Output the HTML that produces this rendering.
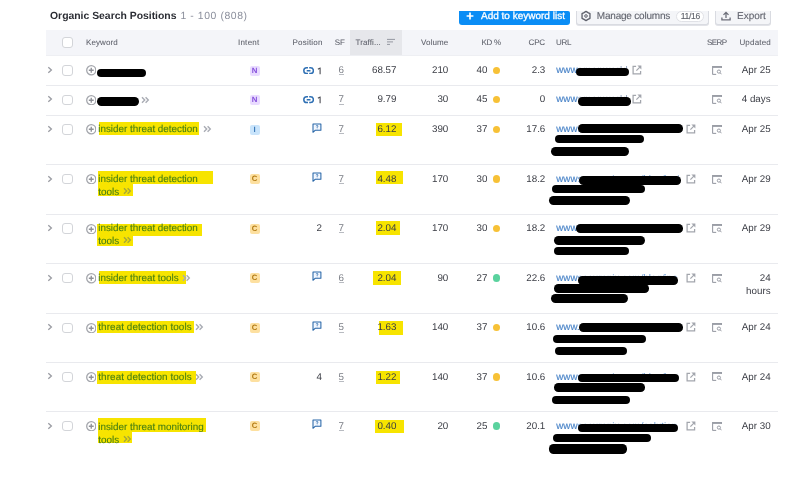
<!DOCTYPE html>
<html><head><meta charset="utf-8"><style>
html,body{margin:0;padding:0;background:#fff;width:800px;height:480px;overflow:hidden;position:relative}
.t{position:absolute;white-space:nowrap;line-height:1;font-family:"Liberation Sans",sans-serif;text-rendering:geometricPrecision}
#w{position:absolute;left:0;top:0;width:800px;height:480px;will-change:transform;background:#fff}
.b{position:absolute}
</style></head><body><div id="w">
<div class="t" style="left:50px;top:12.40px;font-size:10.4px;color:#2a2c33;font-weight:700;">Organic Search Positions</div>
<div class="t" style="left:180.4px;top:12.40px;font-size:10.4px;color:#8b8f9c;font-weight:400;letter-spacing:0.6px;">1 - 100 (808)</div>
<div class="b" style="left:459px;top:11px;width:111.00px;height:14.00px;background:#0a8df5;border-radius:0 2px 3px 3px"></div>
<svg class="b" style="left:465px;top:11.2px" width="10" height="10" viewBox="0 0 10 10"><path d="M5 1.6V8.4M1.6 5H8.4" stroke="#fff" stroke-width="1.7"/></svg>
<div class="t" style="left:481px;top:12.04px;font-size:10px;color:#fff;font-weight:400;-webkit-text-stroke:0.3px currentColor;">Add to keyword list</div>
<div class="b" style="left:575.5px;top:11px;width:133.50px;height:13.50px;background:#f4f5f8;border:1px solid #d9dbe1;border-top:none;border-radius:0 0 3px 3px;box-sizing:border-box;box-shadow:0 1px 0 #e2e3e8"></div>
<svg class="b" style="left:580.2px;top:10.2px" width="12" height="12" viewBox="0 0 12 12"><path d="M6.00 1.40 L7.98 2.58 L9.98 3.70 L9.95 6.00 L9.98 8.30 L7.98 9.42 L6.00 10.60 L4.03 9.42 L2.02 8.30 L2.05 6.00 L2.02 3.70 L4.02 2.58Z" fill="none" stroke="#5f626c" stroke-width="1.35" stroke-linejoin="round"/><circle cx="6" cy="6" r="1.3" fill="none" stroke="#5f626c" stroke-width="1"/></svg>
<div class="t" style="left:596.8px;top:12.04px;font-size:10px;color:#60636d;font-weight:400;letter-spacing:-0.2px;-webkit-text-stroke:0.1px currentColor;">Manage columns</div>
<div class="b" style="left:676.2px;top:11.4px;width:27.40px;height:10.50px;background:#fff;border:1px solid #e0e1e6;border-radius:5.5px;box-sizing:border-box"></div>
<div class="t" style="left:680.8px;top:12.32px;font-size:8.6px;color:#5f626b;font-weight:400;letter-spacing:-0.35px;-webkit-text-stroke:0.12px currentColor;">11/16</div>
<div class="b" style="left:715px;top:11px;width:55.50px;height:13.50px;background:#f4f5f8;border:1px solid #d9dbe1;border-top:none;border-radius:0 0 3px 3px;box-sizing:border-box;box-shadow:0 1px 0 #e2e3e8"></div>
<svg class="b" style="left:720px;top:10.2px" width="12" height="12" viewBox="0 0 12 12"><path d="M6 2.6V8M3.5 4.9L6 2.4 8.5 4.9M1.9 7.4V9.9H10.1V7.4" fill="none" stroke="#6c6e79" stroke-width="1.3"/></svg>
<div class="t" style="left:737px;top:12.04px;font-size:10px;color:#60636d;font-weight:400;-webkit-text-stroke:0.1px currentColor;">Export</div>
<div class="b" style="left:46px;top:30.2px;width:732.00px;height:26.10px;background:#f4f5f9;border-bottom:1px solid #eeeff3;box-sizing:border-box"></div>
<div class="b" style="left:350.3px;top:30.2px;width:51.40px;height:25.30px;background:#e6e7eb"></div>
<div class="b" style="left:62.2px;top:37.4px;width:10.60px;height:10.40px;background:#fff;border:1px solid #d3d5d9;border-radius:3px;box-sizing:border-box"></div>
<div class="t" style="left:86px;top:38.63px;font-size:8px;color:#5c5f69;font-weight:400;letter-spacing:0.08px;-webkit-text-stroke:0.06px currentColor;">Keyword</div>
<div class="t" style="left:237.9px;top:38.63px;font-size:8px;color:#5c5f69;font-weight:400;letter-spacing:0.28px;-webkit-text-stroke:0.06px currentColor;">Intent</div>
<div class="t" style="left:292.6px;top:38.63px;font-size:8px;color:#5c5f69;font-weight:400;letter-spacing:0.19px;-webkit-text-stroke:0.06px currentColor;">Position</div>
<div class="t" style="left:334.7px;top:38.63px;font-size:8px;color:#5c5f69;font-weight:400;letter-spacing:0.08px;-webkit-text-stroke:0.06px currentColor;">SF</div>
<div class="t" style="left:355.6px;top:38.63px;font-size:8px;color:#5c5f69;font-weight:400;letter-spacing:0.09px;-webkit-text-stroke:0.06px currentColor;">Traffi...</div>
<svg class="b" style="left:387px;top:38px" width="9" height="8" viewBox="0 0 9 8"><path d="M0 1.4H8M0 3.9H6M0 6.4H3" stroke="#8b8e99" stroke-width="0.9"/></svg>
<div class="t" style="right:351.60px;top:38.63px;font-size:8px;color:#5c5f69;font-weight:400;text-align:right;letter-spacing:0.1px;-webkit-text-stroke:0.06px currentColor;">Volume</div>
<div class="t" style="left:481.6px;top:38.63px;font-size:8px;color:#5c5f69;font-weight:400;letter-spacing:-0.34px;-webkit-text-stroke:0.06px currentColor;">KD %</div>
<div class="t" style="right:255.06px;top:38.63px;font-size:8px;color:#5c5f69;font-weight:400;text-align:right;letter-spacing:-0.16px;-webkit-text-stroke:0.06px currentColor;">CPC</div>
<div class="t" style="left:556px;top:38.63px;font-size:8px;color:#5c5f69;font-weight:400;letter-spacing:-0.31px;-webkit-text-stroke:0.06px currentColor;">URL</div>
<div class="t" style="left:706.9px;top:38.63px;font-size:8px;color:#5c5f69;font-weight:400;letter-spacing:-0.5px;-webkit-text-stroke:0.06px currentColor;">SERP</div>
<div class="t" style="left:739.4px;top:38.63px;font-size:8px;color:#5c5f69;font-weight:400;letter-spacing:0.19px;-webkit-text-stroke:0.06px currentColor;">Updated</div>
<div class="b" style="left:45.7px;top:84.75px;width:732.30px;height:1.00px;background:#e9eaee"></div>
<div class="b" style="left:45.7px;top:114.5px;width:732.30px;height:1.00px;background:#e9eaee"></div>
<div class="b" style="left:45.7px;top:164.05px;width:732.30px;height:1.00px;background:#e9eaee"></div>
<div class="b" style="left:45.7px;top:213.6px;width:732.30px;height:1.00px;background:#e9eaee"></div>
<div class="b" style="left:45.7px;top:263.1px;width:732.30px;height:1.00px;background:#e9eaee"></div>
<div class="b" style="left:45.7px;top:312.75px;width:732.30px;height:1.00px;background:#e9eaee"></div>
<div class="b" style="left:45.7px;top:361.95px;width:732.30px;height:1.00px;background:#e9eaee"></div>
<div class="b" style="left:45.7px;top:411.0px;width:732.30px;height:1.00px;background:#e9eaee"></div>
<svg class="b" style="left:47px;top:66.00px" width="6" height="8" viewBox="0 0 6 8"><path d="M1.3 1.2L4.4 4 1.3 6.8" fill="none" stroke="#9a9ca3" stroke-width="1.3"/></svg>
<div class="b" style="left:62.1px;top:65.3px;width:10.60px;height:10.50px;background:#fff;border:1px solid #d3d5d9;border-radius:3px;box-sizing:border-box"></div>
<svg class="b" style="left:85.5px;top:65.40px" width="10.5" height="10.5" viewBox="0 0 10.5 10.5"><circle cx="5.25" cy="5.25" r="4.55" fill="none" stroke="#a4a6ac" stroke-width="1.3"/><path d="M5.25 2.8V7.7M2.8 5.25H7.7" stroke="#8f9198" stroke-width="1.35"/></svg>
<div class="b" style="left:96.9px;top:68.5px;width:48.90px;height:8.70px;background:#000;border-radius:4.35px"></div>
<div class="b" style="left:249.6px;top:65.69999999999999px;width:10.20px;height:10.00px;background:#e9dbff;border-radius:2px"></div>
<div class="t" style="left:249.6px;width:10.2px;text-align:center;top:66.70px;font-size:7.8px;font-weight:700;color:#8650dc">N</div>
<svg class="b" style="left:302.8px;top:67.00px" width="11.2" height="7.4" viewBox="0 0 11.2 7.4"><path d="M5 0.8H3.7A2.9 2.9 0 0 0 3.7 6.6H5M6.2 0.8H7.5A2.9 2.9 0 0 1 7.5 6.6H6.2M3.7 3.7H7.5" fill="none" stroke="#2f70b4" stroke-width="1.5"/></svg>
<svg class="b" style="left:316px;top:67.00px" width="6" height="8" viewBox="0 0 6 8"><path d="M4.1 0.4V7.2M4.1 0.9L1.9 2.3" fill="none" stroke="#4a4c53" stroke-width="1.1"/></svg>
<div class="t" style="left:338.5px;top:66.20px;font-size:9.8px;color:#7a7d85;font-weight:400;letter-spacing:0px;">6</div>
<div class="b" style="left:338.9px;top:74.3px;width:5.50px;height:0.80px;background:#b8bbc1"></div>
<div class="t" style="right:403.50px;top:66.20px;font-size:9.8px;color:#3a3c44;font-weight:400;text-align:right;letter-spacing:0px;">68.57</div>
<div class="t" style="right:351.70px;top:66.20px;font-size:9.8px;color:#3a3c44;font-weight:400;text-align:right;letter-spacing:0px;">210</div>
<div class="t" style="right:312.50px;top:66.20px;font-size:9.8px;color:#3a3c44;font-weight:400;text-align:right;letter-spacing:0px;">40</div>
<div class="b" style="left:492.8px;top:66.6px;width:7.60px;height:7.60px;background:#f7c136;border-radius:50%"></div>
<div class="t" style="right:254.70px;top:66.20px;font-size:9.8px;color:#3a3c44;font-weight:400;text-align:right;letter-spacing:0px;">2.3</div>
<div class="t" style="left:556.3px;top:66.20px;font-size:9.8px;color:#4a84c8;font-weight:400;letter-spacing:0px;-webkit-text-stroke:0.15px currentColor;">www</div>
<div class="t" style="left:577.50px;top:66.20px;width:52.40px;overflow:hidden;font-size:9.8px;letter-spacing:0.3px;color:#8a9cb8">amanworld</div>
<div class="b" style="left:575.6px;top:67.5px;width:53.80px;height:8.75px;background:#000;border-radius:4.38px"></div>
<svg class="b" style="left:631.85px;top:65.20px" width="10" height="10" viewBox="0 0 10 10"><path d="M4.1 1.4H1.1V8.9H8.6V5.9" fill="none" stroke="#a3a6ad" stroke-width="1.25"/><path d="M5.4 0.6H9.4V4.6Z" fill="#a3a6ad"/><path d="M8.6 1.4L4.4 5.6" fill="none" stroke="#a3a6ad" stroke-width="1.25"/></svg>
<svg class="b" style="left:711.5px;top:66.00px" width="10.5" height="9" viewBox="0 0 10.5 9"><path d="M0.6 8.4V0.6H9.6V2" fill="none" stroke="#9a9da6" stroke-width="1.1"/><path d="M0.6 1.3H9.6" stroke="#9a9da6" stroke-width="1.2"/><path d="M0.6 8.4H4.2" stroke="#9a9da6" stroke-width="1.1"/><circle cx="6.9" cy="5.6" r="1.6" fill="none" stroke="#9a9da6" stroke-width="1"/><path d="M8.1 6.8L9.6 8.3" stroke="#9a9da6" stroke-width="1"/></svg>
<div class="t" style="right:29.40px;top:66.20px;font-size:9.8px;color:#3a3c44;font-weight:400;text-align:right;letter-spacing:0px;">Apr 25</div>
<svg class="b" style="left:47px;top:95.25px" width="6" height="8" viewBox="0 0 6 8"><path d="M1.3 1.2L4.4 4 1.3 6.8" fill="none" stroke="#9a9ca3" stroke-width="1.3"/></svg>
<div class="b" style="left:62.1px;top:94.55px;width:10.60px;height:10.50px;background:#fff;border:1px solid #d3d5d9;border-radius:3px;box-sizing:border-box"></div>
<svg class="b" style="left:85.5px;top:94.65px" width="10.5" height="10.5" viewBox="0 0 10.5 10.5"><circle cx="5.25" cy="5.25" r="4.55" fill="none" stroke="#a4a6ac" stroke-width="1.3"/><path d="M5.25 2.8V7.7M2.8 5.25H7.7" stroke="#8f9198" stroke-width="1.35"/></svg>
<div class="b" style="left:96.9px;top:97px;width:42.00px;height:8.80px;background:#000;border-radius:4.40px"></div>
<svg class="b" style="left:140.75px;top:95.85px" width="9" height="8" viewBox="0 0 9 8"><path d="M1 1.2L3.7 4 1 6.8M4.6 1.2L7.3 4 4.6 6.8" fill="none" stroke="#a9acb4" stroke-width="1.4"/></svg>
<div class="b" style="left:249.6px;top:94.94999999999999px;width:10.20px;height:10.00px;background:#e9dbff;border-radius:2px"></div>
<div class="t" style="left:249.6px;width:10.2px;text-align:center;top:95.95px;font-size:7.8px;font-weight:700;color:#8650dc">N</div>
<svg class="b" style="left:302.8px;top:96.25px" width="11.2" height="7.4" viewBox="0 0 11.2 7.4"><path d="M5 0.8H3.7A2.9 2.9 0 0 0 3.7 6.6H5M6.2 0.8H7.5A2.9 2.9 0 0 1 7.5 6.6H6.2M3.7 3.7H7.5" fill="none" stroke="#2f70b4" stroke-width="1.5"/></svg>
<svg class="b" style="left:316px;top:96.25px" width="6" height="8" viewBox="0 0 6 8"><path d="M4.1 0.4V7.2M4.1 0.9L1.9 2.3" fill="none" stroke="#4a4c53" stroke-width="1.1"/></svg>
<div class="t" style="left:338.5px;top:95.45px;font-size:9.8px;color:#7a7d85;font-weight:400;letter-spacing:0px;">7</div>
<div class="b" style="left:338.9px;top:103.55px;width:5.50px;height:0.80px;background:#b8bbc1"></div>
<div class="t" style="right:403.50px;top:95.45px;font-size:9.8px;color:#3a3c44;font-weight:400;text-align:right;letter-spacing:0px;">9.79</div>
<div class="t" style="right:351.70px;top:95.45px;font-size:9.8px;color:#3a3c44;font-weight:400;text-align:right;letter-spacing:0px;">30</div>
<div class="t" style="right:312.50px;top:95.45px;font-size:9.8px;color:#3a3c44;font-weight:400;text-align:right;letter-spacing:0px;">45</div>
<div class="b" style="left:492.8px;top:95.85px;width:7.60px;height:7.60px;background:#f7c136;border-radius:50%"></div>
<div class="t" style="right:254.70px;top:95.45px;font-size:9.8px;color:#3a3c44;font-weight:400;text-align:right;letter-spacing:0px;">0</div>
<div class="t" style="left:556.3px;top:95.45px;font-size:9.8px;color:#4a84c8;font-weight:400;letter-spacing:0px;-webkit-text-stroke:0.15px currentColor;">www</div>
<div class="t" style="left:577.50px;top:95.45px;width:53.60px;overflow:hidden;font-size:9.8px;letter-spacing:0.3px;color:#8a9cb8">amanworld</div>
<div class="b" style="left:578px;top:96.9px;width:52.60px;height:8.70px;background:#000;border-radius:4.35px"></div>
<svg class="b" style="left:631.85px;top:94.45px" width="10" height="10" viewBox="0 0 10 10"><path d="M4.1 1.4H1.1V8.9H8.6V5.9" fill="none" stroke="#a3a6ad" stroke-width="1.25"/><path d="M5.4 0.6H9.4V4.6Z" fill="#a3a6ad"/><path d="M8.6 1.4L4.4 5.6" fill="none" stroke="#a3a6ad" stroke-width="1.25"/></svg>
<svg class="b" style="left:711.5px;top:95.25px" width="10.5" height="9" viewBox="0 0 10.5 9"><path d="M0.6 8.4V0.6H9.6V2" fill="none" stroke="#9a9da6" stroke-width="1.1"/><path d="M0.6 1.3H9.6" stroke="#9a9da6" stroke-width="1.2"/><path d="M0.6 8.4H4.2" stroke="#9a9da6" stroke-width="1.1"/><circle cx="6.9" cy="5.6" r="1.6" fill="none" stroke="#9a9da6" stroke-width="1"/><path d="M8.1 6.8L9.6 8.3" stroke="#9a9da6" stroke-width="1"/></svg>
<div class="t" style="right:29.40px;top:95.45px;font-size:9.8px;color:#3a3c44;font-weight:400;text-align:right;letter-spacing:0px;">4 days</div>
<svg class="b" style="left:47px;top:125.00px" width="6" height="8" viewBox="0 0 6 8"><path d="M1.3 1.2L4.4 4 1.3 6.8" fill="none" stroke="#9a9ca3" stroke-width="1.3"/></svg>
<div class="b" style="left:62.1px;top:124.3px;width:10.60px;height:10.50px;background:#fff;border:1px solid #d3d5d9;border-radius:3px;box-sizing:border-box"></div>
<svg class="b" style="left:85.5px;top:124.40px" width="10.5" height="10.5" viewBox="0 0 10.5 10.5"><circle cx="5.25" cy="5.25" r="4.55" fill="none" stroke="#a4a6ac" stroke-width="1.3"/><path d="M5.25 2.8V7.7M2.8 5.25H7.7" stroke="#8f9198" stroke-width="1.35"/></svg>
<div class="b" style="left:99.1px;top:122.4px;width:99.80px;height:13.00px;background:#f7e400"></div>
<div class="t" style="left:98.3px;top:125.02px;font-size:9.9px;color:#4a8012;font-weight:400;letter-spacing:-0.02px;-webkit-text-stroke:0.12px currentColor;">insider threat detection</div>
<svg class="b" style="left:202.50px;top:124.70px" width="9" height="8" viewBox="0 0 9 8"><path d="M1 1.2L3.7 4 1 6.8M4.6 1.2L7.3 4 4.6 6.8" fill="none" stroke="#a9acb4" stroke-width="1.4"/></svg>
<div class="b" style="left:249.6px;top:124.69999999999999px;width:10.20px;height:10.00px;background:#c9e4fb;border-radius:2px"></div>
<div class="t" style="left:249.6px;width:10.2px;text-align:center;top:125.70px;font-size:7.8px;font-weight:700;color:#3a78b8">I</div>
<svg class="b" style="left:311.5px;top:122.80px" width="10" height="10.5" viewBox="0 0 10 10.5"><path d="M1 1H8.9V7.3H3.1L1 9.3Z" fill="#f3f8ff" stroke="#2866a8" stroke-width="1.05" stroke-linejoin="round"/><path d="M4.2 3.3A0.85 0.85 0 1 1 5.1 4.1V4.9" fill="none" stroke="#2866a8" stroke-width="0.75"/><circle cx="5.1" cy="5.9" r="0.4" fill="#2866a8"/></svg>
<div class="t" style="left:338.5px;top:125.20px;font-size:9.8px;color:#7a7d85;font-weight:400;letter-spacing:0px;">7</div>
<div class="b" style="left:338.9px;top:133.3px;width:5.50px;height:0.80px;background:#b8bbc1"></div>
<div class="b" style="left:375.5px;top:122.5px;width:26.50px;height:13.00px;background:#f7e400"></div>
<div class="t" style="right:403.50px;top:125.20px;font-size:9.8px;color:#3a3c44;font-weight:400;text-align:right;letter-spacing:0px;">6.12</div>
<div class="t" style="right:351.70px;top:125.20px;font-size:9.8px;color:#3a3c44;font-weight:400;text-align:right;letter-spacing:0px;">390</div>
<div class="t" style="right:312.50px;top:125.20px;font-size:9.8px;color:#3a3c44;font-weight:400;text-align:right;letter-spacing:0px;">37</div>
<div class="b" style="left:492.8px;top:125.6px;width:7.60px;height:7.60px;background:#f7c136;border-radius:50%"></div>
<div class="t" style="right:254.70px;top:125.20px;font-size:9.8px;color:#3a3c44;font-weight:400;text-align:right;letter-spacing:0px;">17.6</div>
<div class="t" style="left:556.3px;top:125.20px;font-size:9.8px;color:#4a84c8;font-weight:400;letter-spacing:0px;-webkit-text-stroke:0.15px currentColor;">www</div>
<div class="t" style="left:577.50px;top:125.20px;width:104.90px;overflow:hidden;font-size:9.8px;color:#6a9ad2">securonix.com/solutions/insider-threat/</div>
<div class="b" style="left:578px;top:124px;width:105.40px;height:8.60px;background:#000;border-radius:4.30px"></div>
<div class="b" style="left:555px;top:135px;width:89.00px;height:8.00px;background:#000;border-radius:4.00px"></div>
<div class="b" style="left:550.6px;top:147px;width:78.80px;height:9.00px;background:#000;border-radius:4.50px"></div>
<svg class="b" style="left:686.20px;top:124.20px" width="10" height="10" viewBox="0 0 10 10"><path d="M4.1 1.4H1.1V8.9H8.6V5.9" fill="none" stroke="#a3a6ad" stroke-width="1.25"/><path d="M5.4 0.6H9.4V4.6Z" fill="#a3a6ad"/><path d="M8.6 1.4L4.4 5.6" fill="none" stroke="#a3a6ad" stroke-width="1.25"/></svg>
<svg class="b" style="left:711.5px;top:125.00px" width="10.5" height="9" viewBox="0 0 10.5 9"><path d="M0.6 8.4V0.6H9.6V2" fill="none" stroke="#9a9da6" stroke-width="1.1"/><path d="M0.6 1.3H9.6" stroke="#9a9da6" stroke-width="1.2"/><path d="M0.6 8.4H4.2" stroke="#9a9da6" stroke-width="1.1"/><circle cx="6.9" cy="5.6" r="1.6" fill="none" stroke="#9a9da6" stroke-width="1"/><path d="M8.1 6.8L9.6 8.3" stroke="#9a9da6" stroke-width="1"/></svg>
<div class="t" style="right:29.40px;top:125.20px;font-size:9.8px;color:#3a3c44;font-weight:400;text-align:right;letter-spacing:0px;">Apr 25</div>
<svg class="b" style="left:47px;top:174.55px" width="6" height="8" viewBox="0 0 6 8"><path d="M1.3 1.2L4.4 4 1.3 6.8" fill="none" stroke="#9a9ca3" stroke-width="1.3"/></svg>
<div class="b" style="left:62.1px;top:173.85px;width:10.60px;height:10.50px;background:#fff;border:1px solid #d3d5d9;border-radius:3px;box-sizing:border-box"></div>
<svg class="b" style="left:85.5px;top:173.95px" width="10.5" height="10.5" viewBox="0 0 10.5 10.5"><circle cx="5.25" cy="5.25" r="4.55" fill="none" stroke="#a4a6ac" stroke-width="1.3"/><path d="M5.25 2.8V7.7M2.8 5.25H7.7" stroke="#8f9198" stroke-width="1.35"/></svg>
<div class="b" style="left:98.2px;top:171.3px;width:114.90px;height:12.40px;background:#f7e400"></div>
<div class="b" style="left:98.2px;top:183.7px;width:35.30px;height:12.30px;background:#f7e400"></div>
<div class="t" style="left:98.3px;top:174.77px;font-size:9.9px;color:#4a8012;font-weight:400;letter-spacing:-0.02px;-webkit-text-stroke:0.12px currentColor;">insider threat detection</div>
<div class="t" style="left:98.3px;top:187.67px;font-size:9.9px;color:#4a8012;font-weight:400;-webkit-text-stroke:0.12px currentColor;">tools</div>
<svg class="b" style="left:123.00px;top:187.35px" width="9" height="8" viewBox="0 0 9 8"><path d="M1 1.2L3.7 4 1 6.8M4.6 1.2L7.3 4 4.6 6.8" fill="none" stroke="#a6a838" stroke-width="1.4"/></svg>
<div class="b" style="left:249.6px;top:174.25px;width:10.20px;height:10.00px;background:#fde0a0;border-radius:2px"></div>
<div class="t" style="left:249.6px;width:10.2px;text-align:center;top:175.25px;font-size:7.8px;font-weight:700;color:#b27a12">C</div>
<svg class="b" style="left:311.5px;top:172.35px" width="10" height="10.5" viewBox="0 0 10 10.5"><path d="M1 1H8.9V7.3H3.1L1 9.3Z" fill="#f3f8ff" stroke="#2866a8" stroke-width="1.05" stroke-linejoin="round"/><path d="M4.2 3.3A0.85 0.85 0 1 1 5.1 4.1V4.9" fill="none" stroke="#2866a8" stroke-width="0.75"/><circle cx="5.1" cy="5.9" r="0.4" fill="#2866a8"/></svg>
<div class="t" style="left:338.5px;top:174.75px;font-size:9.8px;color:#7a7d85;font-weight:400;letter-spacing:0px;">7</div>
<div class="b" style="left:338.9px;top:182.85000000000002px;width:5.50px;height:0.80px;background:#b8bbc1"></div>
<div class="b" style="left:376.25px;top:170.5px;width:26.75px;height:13.25px;background:#f7e400"></div>
<div class="t" style="right:403.50px;top:174.75px;font-size:9.8px;color:#3a3c44;font-weight:400;text-align:right;letter-spacing:0px;">4.48</div>
<div class="t" style="right:351.70px;top:174.75px;font-size:9.8px;color:#3a3c44;font-weight:400;text-align:right;letter-spacing:0px;">170</div>
<div class="t" style="right:312.50px;top:174.75px;font-size:9.8px;color:#3a3c44;font-weight:400;text-align:right;letter-spacing:0px;">30</div>
<div class="b" style="left:492.8px;top:175.15px;width:7.60px;height:7.60px;background:#f7c136;border-radius:50%"></div>
<div class="t" style="right:254.70px;top:174.75px;font-size:9.8px;color:#3a3c44;font-weight:400;text-align:right;letter-spacing:0px;">18.2</div>
<div class="t" style="left:556.3px;top:174.75px;font-size:9.8px;color:#4a84c8;font-weight:400;letter-spacing:0px;-webkit-text-stroke:0.15px currentColor;">www</div>
<div class="t" style="left:577.50px;top:174.75px;width:102.50px;overflow:hidden;font-size:9.8px;color:#6a9ad2">securonix.com/blog/insider-threat-detection/</div>
<div class="b" style="left:578.6px;top:176px;width:102.40px;height:8.60px;background:#000;border-radius:4.30px"></div>
<div class="b" style="left:552px;top:185px;width:92.60px;height:8.40px;background:#000;border-radius:4.20px"></div>
<div class="b" style="left:549.4px;top:196px;width:80.60px;height:9.00px;background:#000;border-radius:4.50px"></div>
<svg class="b" style="left:686.20px;top:173.75px" width="10" height="10" viewBox="0 0 10 10"><path d="M4.1 1.4H1.1V8.9H8.6V5.9" fill="none" stroke="#a3a6ad" stroke-width="1.25"/><path d="M5.4 0.6H9.4V4.6Z" fill="#a3a6ad"/><path d="M8.6 1.4L4.4 5.6" fill="none" stroke="#a3a6ad" stroke-width="1.25"/></svg>
<svg class="b" style="left:711.5px;top:174.55px" width="10.5" height="9" viewBox="0 0 10.5 9"><path d="M0.6 8.4V0.6H9.6V2" fill="none" stroke="#9a9da6" stroke-width="1.1"/><path d="M0.6 1.3H9.6" stroke="#9a9da6" stroke-width="1.2"/><path d="M0.6 8.4H4.2" stroke="#9a9da6" stroke-width="1.1"/><circle cx="6.9" cy="5.6" r="1.6" fill="none" stroke="#9a9da6" stroke-width="1"/><path d="M8.1 6.8L9.6 8.3" stroke="#9a9da6" stroke-width="1"/></svg>
<div class="t" style="right:29.40px;top:174.75px;font-size:9.8px;color:#3a3c44;font-weight:400;text-align:right;letter-spacing:0px;">Apr 29</div>
<svg class="b" style="left:47px;top:224.10px" width="6" height="8" viewBox="0 0 6 8"><path d="M1.3 1.2L4.4 4 1.3 6.8" fill="none" stroke="#9a9ca3" stroke-width="1.3"/></svg>
<div class="b" style="left:62.1px;top:223.39999999999998px;width:10.60px;height:10.50px;background:#fff;border:1px solid #d3d5d9;border-radius:3px;box-sizing:border-box"></div>
<svg class="b" style="left:85.5px;top:223.50px" width="10.5" height="10.5" viewBox="0 0 10.5 10.5"><circle cx="5.25" cy="5.25" r="4.55" fill="none" stroke="#a4a6ac" stroke-width="1.3"/><path d="M5.25 2.8V7.7M2.8 5.25H7.7" stroke="#8f9198" stroke-width="1.35"/></svg>
<div class="b" style="left:96.8px;top:223.8px;width:105.00px;height:12.40px;background:#f7e400"></div>
<div class="b" style="left:96.8px;top:236.2px;width:35.90px;height:9.80px;background:#f7e400"></div>
<div class="t" style="left:98.3px;top:223.82px;font-size:9.9px;color:#4a8012;font-weight:400;letter-spacing:-0.02px;-webkit-text-stroke:0.12px currentColor;">insider threat detection</div>
<div class="t" style="left:98.3px;top:236.72px;font-size:9.9px;color:#4a8012;font-weight:400;-webkit-text-stroke:0.12px currentColor;">tools</div>
<svg class="b" style="left:123.00px;top:236.40px" width="9" height="8" viewBox="0 0 9 8"><path d="M1 1.2L3.7 4 1 6.8M4.6 1.2L7.3 4 4.6 6.8" fill="none" stroke="#a6a838" stroke-width="1.4"/></svg>
<div class="b" style="left:249.6px;top:223.79999999999998px;width:10.20px;height:10.00px;background:#fde0a0;border-radius:2px"></div>
<div class="t" style="left:249.6px;width:10.2px;text-align:center;top:224.80px;font-size:7.8px;font-weight:700;color:#b27a12">C</div>
<div class="t" style="right:478.00px;top:224.30px;font-size:9.8px;color:#3a3c44;font-weight:400;text-align:right;letter-spacing:0px;">2</div>
<div class="t" style="left:338.5px;top:224.30px;font-size:9.8px;color:#7a7d85;font-weight:400;letter-spacing:0px;">7</div>
<div class="b" style="left:338.9px;top:232.4px;width:5.50px;height:0.80px;background:#b8bbc1"></div>
<div class="b" style="left:376.25px;top:221.25px;width:23.25px;height:13.75px;background:#f7e400"></div>
<div class="t" style="right:403.50px;top:224.30px;font-size:9.8px;color:#3a3c44;font-weight:400;text-align:right;letter-spacing:0px;">2.04</div>
<div class="t" style="right:351.70px;top:224.30px;font-size:9.8px;color:#3a3c44;font-weight:400;text-align:right;letter-spacing:0px;">170</div>
<div class="t" style="right:312.50px;top:224.30px;font-size:9.8px;color:#3a3c44;font-weight:400;text-align:right;letter-spacing:0px;">30</div>
<div class="b" style="left:492.8px;top:224.7px;width:7.60px;height:7.60px;background:#f7c136;border-radius:50%"></div>
<div class="t" style="right:254.70px;top:224.30px;font-size:9.8px;color:#3a3c44;font-weight:400;text-align:right;letter-spacing:0px;">18.2</div>
<div class="t" style="left:556.3px;top:224.30px;font-size:9.8px;color:#4a84c8;font-weight:400;letter-spacing:0px;-webkit-text-stroke:0.15px currentColor;">www</div>
<div class="t" style="left:577.50px;top:224.30px;width:104.50px;overflow:hidden;font-size:9.8px;color:#6a9ad2">securonix.com/solutions/insider-threat/</div>
<div class="b" style="left:576px;top:224px;width:107.00px;height:8.60px;background:#000;border-radius:4.30px"></div>
<div class="b" style="left:554px;top:235.6px;width:91.40px;height:9.00px;background:#000;border-radius:4.50px"></div>
<div class="b" style="left:554px;top:246.6px;width:75.00px;height:8.80px;background:#000;border-radius:4.40px"></div>
<svg class="b" style="left:686.20px;top:223.30px" width="10" height="10" viewBox="0 0 10 10"><path d="M4.1 1.4H1.1V8.9H8.6V5.9" fill="none" stroke="#a3a6ad" stroke-width="1.25"/><path d="M5.4 0.6H9.4V4.6Z" fill="#a3a6ad"/><path d="M8.6 1.4L4.4 5.6" fill="none" stroke="#a3a6ad" stroke-width="1.25"/></svg>
<svg class="b" style="left:711.5px;top:224.10px" width="10.5" height="9" viewBox="0 0 10.5 9"><path d="M0.6 8.4V0.6H9.6V2" fill="none" stroke="#9a9da6" stroke-width="1.1"/><path d="M0.6 1.3H9.6" stroke="#9a9da6" stroke-width="1.2"/><path d="M0.6 8.4H4.2" stroke="#9a9da6" stroke-width="1.1"/><circle cx="6.9" cy="5.6" r="1.6" fill="none" stroke="#9a9da6" stroke-width="1"/><path d="M8.1 6.8L9.6 8.3" stroke="#9a9da6" stroke-width="1"/></svg>
<div class="t" style="right:29.40px;top:224.30px;font-size:9.8px;color:#3a3c44;font-weight:400;text-align:right;letter-spacing:0px;">Apr 29</div>
<svg class="b" style="left:47px;top:273.60px" width="6" height="8" viewBox="0 0 6 8"><path d="M1.3 1.2L4.4 4 1.3 6.8" fill="none" stroke="#9a9ca3" stroke-width="1.3"/></svg>
<div class="b" style="left:62.1px;top:272.90000000000003px;width:10.60px;height:10.50px;background:#fff;border:1px solid #d3d5d9;border-radius:3px;box-sizing:border-box"></div>
<svg class="b" style="left:85.5px;top:273.00px" width="10.5" height="10.5" viewBox="0 0 10.5 10.5"><circle cx="5.25" cy="5.25" r="4.55" fill="none" stroke="#a4a6ac" stroke-width="1.3"/><path d="M5.25 2.8V7.7M2.8 5.25H7.7" stroke="#8f9198" stroke-width="1.35"/></svg>
<div class="b" style="left:98.6px;top:271.3px;width:87.60px;height:12.90px;background:#f7e400"></div>
<div class="t" style="left:98.3px;top:274.27px;font-size:9.9px;color:#4a8012;font-weight:400;letter-spacing:-0.02px;-webkit-text-stroke:0.12px currentColor;">insider threat tools</div>
<svg class="b" style="left:182.10px;top:273.95px" width="9" height="8" viewBox="0 0 9 8"><path d="M1 1.2L3.7 4 1 6.8M4.6 1.2L7.3 4 4.6 6.8" fill="none" stroke="#a9acb4" stroke-width="1.4"/></svg>
<div class="b" style="left:249.6px;top:273.30000000000007px;width:10.20px;height:10.00px;background:#fde0a0;border-radius:2px"></div>
<div class="t" style="left:249.6px;width:10.2px;text-align:center;top:274.30px;font-size:7.8px;font-weight:700;color:#b27a12">C</div>
<svg class="b" style="left:311.5px;top:271.40px" width="10" height="10.5" viewBox="0 0 10 10.5"><path d="M1 1H8.9V7.3H3.1L1 9.3Z" fill="#f3f8ff" stroke="#2866a8" stroke-width="1.05" stroke-linejoin="round"/><path d="M4.2 3.3A0.85 0.85 0 1 1 5.1 4.1V4.9" fill="none" stroke="#2866a8" stroke-width="0.75"/><circle cx="5.1" cy="5.9" r="0.4" fill="#2866a8"/></svg>
<div class="t" style="left:338.5px;top:273.80px;font-size:9.8px;color:#7a7d85;font-weight:400;letter-spacing:0px;">6</div>
<div class="b" style="left:338.9px;top:281.90000000000003px;width:5.50px;height:0.80px;background:#b8bbc1"></div>
<div class="b" style="left:373px;top:271.25px;width:27.50px;height:13.25px;background:#f7e400"></div>
<div class="t" style="right:403.50px;top:273.80px;font-size:9.8px;color:#3a3c44;font-weight:400;text-align:right;letter-spacing:0px;">2.04</div>
<div class="t" style="right:351.70px;top:273.80px;font-size:9.8px;color:#3a3c44;font-weight:400;text-align:right;letter-spacing:0px;">90</div>
<div class="t" style="right:312.50px;top:273.80px;font-size:9.8px;color:#3a3c44;font-weight:400;text-align:right;letter-spacing:0px;">27</div>
<div class="b" style="left:492.8px;top:274.20000000000005px;width:7.60px;height:7.60px;background:#5ad29e;border-radius:50%"></div>
<div class="t" style="right:254.70px;top:273.80px;font-size:9.8px;color:#3a3c44;font-weight:400;text-align:right;letter-spacing:0px;">22.6</div>
<div class="t" style="left:556.3px;top:273.80px;font-size:9.8px;color:#4a84c8;font-weight:400;letter-spacing:0px;-webkit-text-stroke:0.15px currentColor;">www</div>
<div class="t" style="left:577.50px;top:273.80px;width:99.50px;overflow:hidden;font-size:9.8px;color:#6a9ad2">securonix.com/blog/insider-threat-detection/</div>
<div class="b" style="left:578px;top:276px;width:100.00px;height:8.60px;background:#000;border-radius:4.30px"></div>
<div class="b" style="left:554px;top:284px;width:95.40px;height:8.60px;background:#000;border-radius:4.30px"></div>
<div class="b" style="left:551px;top:294px;width:77.00px;height:9.00px;background:#000;border-radius:4.50px"></div>
<svg class="b" style="left:686.20px;top:272.80px" width="10" height="10" viewBox="0 0 10 10"><path d="M4.1 1.4H1.1V8.9H8.6V5.9" fill="none" stroke="#a3a6ad" stroke-width="1.25"/><path d="M5.4 0.6H9.4V4.6Z" fill="#a3a6ad"/><path d="M8.6 1.4L4.4 5.6" fill="none" stroke="#a3a6ad" stroke-width="1.25"/></svg>
<svg class="b" style="left:711.5px;top:273.60px" width="10.5" height="9" viewBox="0 0 10.5 9"><path d="M0.6 8.4V0.6H9.6V2" fill="none" stroke="#9a9da6" stroke-width="1.1"/><path d="M0.6 1.3H9.6" stroke="#9a9da6" stroke-width="1.2"/><path d="M0.6 8.4H4.2" stroke="#9a9da6" stroke-width="1.1"/><circle cx="6.9" cy="5.6" r="1.6" fill="none" stroke="#9a9da6" stroke-width="1"/><path d="M8.1 6.8L9.6 8.3" stroke="#9a9da6" stroke-width="1"/></svg>
<div class="t" style="right:29.40px;top:273.80px;font-size:9.8px;color:#3a3c44;font-weight:400;text-align:right;letter-spacing:0px;">24</div>
<div class="t" style="right:29.40px;top:287.40px;font-size:9.8px;color:#3a3c44;font-weight:400;text-align:right;letter-spacing:0px;">hours</div>
<svg class="b" style="left:47px;top:323.25px" width="6" height="8" viewBox="0 0 6 8"><path d="M1.3 1.2L4.4 4 1.3 6.8" fill="none" stroke="#9a9ca3" stroke-width="1.3"/></svg>
<div class="b" style="left:62.1px;top:322.55px;width:10.60px;height:10.50px;background:#fff;border:1px solid #d3d5d9;border-radius:3px;box-sizing:border-box"></div>
<svg class="b" style="left:85.5px;top:322.65px" width="10.5" height="10.5" viewBox="0 0 10.5 10.5"><circle cx="5.25" cy="5.25" r="4.55" fill="none" stroke="#a4a6ac" stroke-width="1.3"/><path d="M5.25 2.8V7.7M2.8 5.25H7.7" stroke="#8f9198" stroke-width="1.35"/></svg>
<div class="b" style="left:96.8px;top:320.9px;width:97.40px;height:12.30px;background:#f7e400"></div>
<div class="t" style="left:98.3px;top:323.22px;font-size:9.9px;color:#4a8012;font-weight:400;letter-spacing:0.08px;-webkit-text-stroke:0.12px currentColor;">threat detection tools</div>
<svg class="b" style="left:194.90px;top:322.90px" width="9" height="8" viewBox="0 0 9 8"><path d="M1 1.2L3.7 4 1 6.8M4.6 1.2L7.3 4 4.6 6.8" fill="none" stroke="#a9acb4" stroke-width="1.4"/></svg>
<div class="b" style="left:249.6px;top:322.95000000000005px;width:10.20px;height:10.00px;background:#fde0a0;border-radius:2px"></div>
<div class="t" style="left:249.6px;width:10.2px;text-align:center;top:323.95px;font-size:7.8px;font-weight:700;color:#b27a12">C</div>
<svg class="b" style="left:311.5px;top:321.05px" width="10" height="10.5" viewBox="0 0 10 10.5"><path d="M1 1H8.9V7.3H3.1L1 9.3Z" fill="#f3f8ff" stroke="#2866a8" stroke-width="1.05" stroke-linejoin="round"/><path d="M4.2 3.3A0.85 0.85 0 1 1 5.1 4.1V4.9" fill="none" stroke="#2866a8" stroke-width="0.75"/><circle cx="5.1" cy="5.9" r="0.4" fill="#2866a8"/></svg>
<div class="t" style="left:338.5px;top:323.45px;font-size:9.8px;color:#7a7d85;font-weight:400;letter-spacing:0px;">5</div>
<div class="b" style="left:338.9px;top:331.55px;width:5.50px;height:0.80px;background:#b8bbc1"></div>
<div class="b" style="left:378.75px;top:320.5px;width:23.75px;height:14.00px;background:#f7e400"></div>
<div class="t" style="right:403.50px;top:323.45px;font-size:9.8px;color:#3a3c44;font-weight:400;text-align:right;letter-spacing:0px;">1.63</div>
<div class="t" style="right:351.70px;top:323.45px;font-size:9.8px;color:#3a3c44;font-weight:400;text-align:right;letter-spacing:0px;">140</div>
<div class="t" style="right:312.50px;top:323.45px;font-size:9.8px;color:#3a3c44;font-weight:400;text-align:right;letter-spacing:0px;">37</div>
<div class="b" style="left:492.8px;top:323.85px;width:7.60px;height:7.60px;background:#f7c136;border-radius:50%"></div>
<div class="t" style="right:254.70px;top:323.45px;font-size:9.8px;color:#3a3c44;font-weight:400;text-align:right;letter-spacing:0px;">10.6</div>
<div class="t" style="left:556.3px;top:323.45px;font-size:9.8px;color:#4a84c8;font-weight:400;letter-spacing:0px;-webkit-text-stroke:0.15px currentColor;">www.</div>
<div class="t" style="left:580.20px;top:323.45px;width:101.40px;overflow:hidden;font-size:9.8px;color:#6a9ad2">securonix.com/solutions/insider-threat/</div>
<div class="b" style="left:579.4px;top:323px;width:103.20px;height:8.60px;background:#000;border-radius:4.30px"></div>
<div class="b" style="left:553px;top:334.6px;width:93.00px;height:8.40px;background:#000;border-radius:4.20px"></div>
<div class="b" style="left:555.4px;top:346.6px;width:71.20px;height:8.80px;background:#000;border-radius:4.40px"></div>
<svg class="b" style="left:686.20px;top:322.45px" width="10" height="10" viewBox="0 0 10 10"><path d="M4.1 1.4H1.1V8.9H8.6V5.9" fill="none" stroke="#a3a6ad" stroke-width="1.25"/><path d="M5.4 0.6H9.4V4.6Z" fill="#a3a6ad"/><path d="M8.6 1.4L4.4 5.6" fill="none" stroke="#a3a6ad" stroke-width="1.25"/></svg>
<svg class="b" style="left:711.5px;top:323.25px" width="10.5" height="9" viewBox="0 0 10.5 9"><path d="M0.6 8.4V0.6H9.6V2" fill="none" stroke="#9a9da6" stroke-width="1.1"/><path d="M0.6 1.3H9.6" stroke="#9a9da6" stroke-width="1.2"/><path d="M0.6 8.4H4.2" stroke="#9a9da6" stroke-width="1.1"/><circle cx="6.9" cy="5.6" r="1.6" fill="none" stroke="#9a9da6" stroke-width="1"/><path d="M8.1 6.8L9.6 8.3" stroke="#9a9da6" stroke-width="1"/></svg>
<div class="t" style="right:29.40px;top:323.45px;font-size:9.8px;color:#3a3c44;font-weight:400;text-align:right;letter-spacing:0px;">Apr 24</div>
<svg class="b" style="left:47px;top:372.45px" width="6" height="8" viewBox="0 0 6 8"><path d="M1.3 1.2L4.4 4 1.3 6.8" fill="none" stroke="#9a9ca3" stroke-width="1.3"/></svg>
<div class="b" style="left:62.1px;top:371.75px;width:10.60px;height:10.50px;background:#fff;border:1px solid #d3d5d9;border-radius:3px;box-sizing:border-box"></div>
<svg class="b" style="left:85.5px;top:371.85px" width="10.5" height="10.5" viewBox="0 0 10.5 10.5"><circle cx="5.25" cy="5.25" r="4.55" fill="none" stroke="#a4a6ac" stroke-width="1.3"/><path d="M5.25 2.8V7.7M2.8 5.25H7.7" stroke="#8f9198" stroke-width="1.35"/></svg>
<div class="b" style="left:96.8px;top:371px;width:99.10px;height:12.50px;background:#f7e400"></div>
<div class="t" style="left:98.3px;top:373.02px;font-size:9.9px;color:#4a8012;font-weight:400;letter-spacing:0.08px;-webkit-text-stroke:0.12px currentColor;">threat detection tools</div>
<svg class="b" style="left:194.90px;top:372.70px" width="9" height="8" viewBox="0 0 9 8"><path d="M1 1.2L3.7 4 1 6.8M4.6 1.2L7.3 4 4.6 6.8" fill="none" stroke="#a9acb4" stroke-width="1.4"/></svg>
<div class="b" style="left:249.6px;top:372.15000000000003px;width:10.20px;height:10.00px;background:#fde0a0;border-radius:2px"></div>
<div class="t" style="left:249.6px;width:10.2px;text-align:center;top:373.15px;font-size:7.8px;font-weight:700;color:#b27a12">C</div>
<div class="t" style="right:478.00px;top:372.65px;font-size:9.8px;color:#3a3c44;font-weight:400;text-align:right;letter-spacing:0px;">4</div>
<div class="t" style="left:338.5px;top:372.65px;font-size:9.8px;color:#7a7d85;font-weight:400;letter-spacing:0px;">5</div>
<div class="b" style="left:338.9px;top:380.75px;width:5.50px;height:0.80px;background:#b8bbc1"></div>
<div class="b" style="left:376.25px;top:370.5px;width:23.25px;height:13.25px;background:#f7e400"></div>
<div class="t" style="right:403.50px;top:372.65px;font-size:9.8px;color:#3a3c44;font-weight:400;text-align:right;letter-spacing:0px;">1.22</div>
<div class="t" style="right:351.70px;top:372.65px;font-size:9.8px;color:#3a3c44;font-weight:400;text-align:right;letter-spacing:0px;">140</div>
<div class="t" style="right:312.50px;top:372.65px;font-size:9.8px;color:#3a3c44;font-weight:400;text-align:right;letter-spacing:0px;">37</div>
<div class="b" style="left:492.8px;top:373.05px;width:7.60px;height:7.60px;background:#f7c136;border-radius:50%"></div>
<div class="t" style="right:254.70px;top:372.65px;font-size:9.8px;color:#3a3c44;font-weight:400;text-align:right;letter-spacing:0px;">10.6</div>
<div class="t" style="left:556.3px;top:372.65px;font-size:9.8px;color:#4a84c8;font-weight:400;letter-spacing:0px;-webkit-text-stroke:0.15px currentColor;">www</div>
<div class="t" style="left:577.50px;top:372.65px;width:100.10px;overflow:hidden;font-size:9.8px;color:#6a9ad2">securonix.com/blog/insider-threat-detection/</div>
<div class="b" style="left:578px;top:373.6px;width:100.60px;height:8.40px;background:#000;border-radius:4.20px"></div>
<div class="b" style="left:554px;top:383px;width:91.00px;height:8.60px;background:#000;border-radius:4.30px"></div>
<div class="b" style="left:552px;top:395.6px;width:78.00px;height:8.80px;background:#000;border-radius:4.40px"></div>
<svg class="b" style="left:686.20px;top:371.65px" width="10" height="10" viewBox="0 0 10 10"><path d="M4.1 1.4H1.1V8.9H8.6V5.9" fill="none" stroke="#a3a6ad" stroke-width="1.25"/><path d="M5.4 0.6H9.4V4.6Z" fill="#a3a6ad"/><path d="M8.6 1.4L4.4 5.6" fill="none" stroke="#a3a6ad" stroke-width="1.25"/></svg>
<svg class="b" style="left:711.5px;top:372.45px" width="10.5" height="9" viewBox="0 0 10.5 9"><path d="M0.6 8.4V0.6H9.6V2" fill="none" stroke="#9a9da6" stroke-width="1.1"/><path d="M0.6 1.3H9.6" stroke="#9a9da6" stroke-width="1.2"/><path d="M0.6 8.4H4.2" stroke="#9a9da6" stroke-width="1.1"/><circle cx="6.9" cy="5.6" r="1.6" fill="none" stroke="#9a9da6" stroke-width="1"/><path d="M8.1 6.8L9.6 8.3" stroke="#9a9da6" stroke-width="1"/></svg>
<div class="t" style="right:29.40px;top:372.65px;font-size:9.8px;color:#3a3c44;font-weight:400;text-align:right;letter-spacing:0px;">Apr 24</div>
<svg class="b" style="left:47px;top:421.50px" width="6" height="8" viewBox="0 0 6 8"><path d="M1.3 1.2L4.4 4 1.3 6.8" fill="none" stroke="#9a9ca3" stroke-width="1.3"/></svg>
<div class="b" style="left:62.1px;top:420.8px;width:10.60px;height:10.50px;background:#fff;border:1px solid #d3d5d9;border-radius:3px;box-sizing:border-box"></div>
<svg class="b" style="left:85.5px;top:420.90px" width="10.5" height="10.5" viewBox="0 0 10.5 10.5"><circle cx="5.25" cy="5.25" r="4.55" fill="none" stroke="#a4a6ac" stroke-width="1.3"/><path d="M5.25 2.8V7.7M2.8 5.25H7.7" stroke="#8f9198" stroke-width="1.35"/></svg>
<div class="b" style="left:98px;top:417.9px;width:107.70px;height:14.00px;background:#f7e400"></div>
<div class="b" style="left:98px;top:431.9px;width:33.70px;height:11.40px;background:#f7e400"></div>
<div class="t" style="left:98.3px;top:422.72px;font-size:9.9px;color:#4a8012;font-weight:400;letter-spacing:-0.02px;-webkit-text-stroke:0.12px currentColor;">insider threat monitoring</div>
<div class="t" style="left:98.3px;top:435.62px;font-size:9.9px;color:#4a8012;font-weight:400;-webkit-text-stroke:0.12px currentColor;">tools</div>
<svg class="b" style="left:123.00px;top:435.30px" width="9" height="8" viewBox="0 0 9 8"><path d="M1 1.2L3.7 4 1 6.8M4.6 1.2L7.3 4 4.6 6.8" fill="none" stroke="#a6a838" stroke-width="1.4"/></svg>
<div class="b" style="left:249.6px;top:421.20000000000005px;width:10.20px;height:10.00px;background:#fde0a0;border-radius:2px"></div>
<div class="t" style="left:249.6px;width:10.2px;text-align:center;top:422.20px;font-size:7.8px;font-weight:700;color:#b27a12">C</div>
<svg class="b" style="left:311.5px;top:419.30px" width="10" height="10.5" viewBox="0 0 10 10.5"><path d="M1 1H8.9V7.3H3.1L1 9.3Z" fill="#f3f8ff" stroke="#2866a8" stroke-width="1.05" stroke-linejoin="round"/><path d="M4.2 3.3A0.85 0.85 0 1 1 5.1 4.1V4.9" fill="none" stroke="#2866a8" stroke-width="0.75"/><circle cx="5.1" cy="5.9" r="0.4" fill="#2866a8"/></svg>
<div class="t" style="left:338.5px;top:421.70px;font-size:9.8px;color:#7a7d85;font-weight:400;letter-spacing:0px;">7</div>
<div class="b" style="left:338.9px;top:429.8px;width:5.50px;height:0.80px;background:#b8bbc1"></div>
<div class="b" style="left:374.5px;top:419.5px;width:29.25px;height:13.00px;background:#f7e400"></div>
<div class="t" style="right:403.50px;top:421.70px;font-size:9.8px;color:#3a3c44;font-weight:400;text-align:right;letter-spacing:0px;">0.40</div>
<div class="t" style="right:351.70px;top:421.70px;font-size:9.8px;color:#3a3c44;font-weight:400;text-align:right;letter-spacing:0px;">20</div>
<div class="t" style="right:312.50px;top:421.70px;font-size:9.8px;color:#3a3c44;font-weight:400;text-align:right;letter-spacing:0px;">25</div>
<div class="b" style="left:492.8px;top:422.1px;width:7.60px;height:7.60px;background:#5ad29e;border-radius:50%"></div>
<div class="t" style="right:254.70px;top:421.70px;font-size:9.8px;color:#3a3c44;font-weight:400;text-align:right;letter-spacing:0px;">20.1</div>
<div class="t" style="left:556.3px;top:421.70px;font-size:9.8px;color:#4a84c8;font-weight:400;letter-spacing:0px;-webkit-text-stroke:0.15px currentColor;">www</div>
<div class="t" style="left:577.50px;top:421.70px;width:99.50px;overflow:hidden;font-size:9.8px;color:#6a9ad2">securonix.com/solutions/insider-threat/</div>
<div class="b" style="left:578px;top:424px;width:100.00px;height:8.40px;background:#000;border-radius:4.20px"></div>
<div class="b" style="left:553px;top:434px;width:98.40px;height:8.40px;background:#000;border-radius:4.20px"></div>
<div class="b" style="left:549.4px;top:444.4px;width:77.60px;height:9.20px;background:#000;border-radius:4.60px"></div>
<svg class="b" style="left:686.20px;top:420.70px" width="10" height="10" viewBox="0 0 10 10"><path d="M4.1 1.4H1.1V8.9H8.6V5.9" fill="none" stroke="#a3a6ad" stroke-width="1.25"/><path d="M5.4 0.6H9.4V4.6Z" fill="#a3a6ad"/><path d="M8.6 1.4L4.4 5.6" fill="none" stroke="#a3a6ad" stroke-width="1.25"/></svg>
<svg class="b" style="left:711.5px;top:421.50px" width="10.5" height="9" viewBox="0 0 10.5 9"><path d="M0.6 8.4V0.6H9.6V2" fill="none" stroke="#9a9da6" stroke-width="1.1"/><path d="M0.6 1.3H9.6" stroke="#9a9da6" stroke-width="1.2"/><path d="M0.6 8.4H4.2" stroke="#9a9da6" stroke-width="1.1"/><circle cx="6.9" cy="5.6" r="1.6" fill="none" stroke="#9a9da6" stroke-width="1"/><path d="M8.1 6.8L9.6 8.3" stroke="#9a9da6" stroke-width="1"/></svg>
<div class="t" style="right:29.40px;top:421.70px;font-size:9.8px;color:#3a3c44;font-weight:400;text-align:right;letter-spacing:0px;">Apr 30</div>
</div></body></html>
